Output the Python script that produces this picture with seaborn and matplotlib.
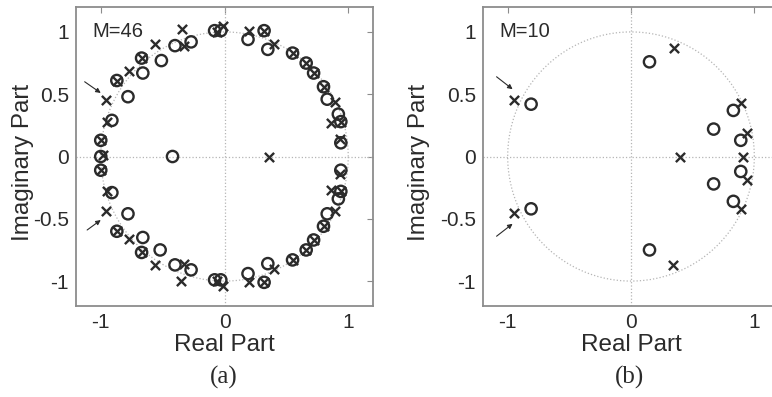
import numpy as np
import matplotlib
matplotlib.use('Agg')
import matplotlib.pyplot as plt
import seaborn as sns

# panel (a), M=46: zeros (o) and poles (x)
a_zero_re = [-0.27, -0.40, -0.51, -0.67, -0.66, -0.87, -0.78, -0.91, -1.00, -0.08, -0.03,
             0.19, 0.32, 0.35, 0.55, 0.66, 0.72, 0.80, 0.83, 0.92, 0.94, 0.94,
             -0.27, -0.40, -0.52, -0.67, -0.66, -0.87, -0.78, -0.91, -1.00, -0.08, -0.03,
             0.19, 0.32, 0.35, 0.55, 0.66, 0.72, 0.80, 0.83, 0.92, 0.94, 0.94,
             -0.42, -1.00]
a_zero_im = [0.92, 0.89, 0.77, 0.79, 0.67, 0.61, 0.48, 0.29, 0.13, 1.01, 1.01,
             0.94, 1.01, 0.86, 0.83, 0.75, 0.67, 0.56, 0.46, 0.34, 0.28, 0.11,
             -0.91, -0.87, -0.75, -0.77, -0.65, -0.60, -0.46, -0.29, -0.11, -0.99, -0.99,
             -0.94, -1.01, -0.86, -0.83, -0.75, -0.67, -0.56, -0.46, -0.34, -0.28, -0.11,
             0.0, 0.0]
a_pole_re = [-0.34, -0.33, -0.56, -0.67, -0.77, -0.87, -0.96, -0.95, -1.00, -0.06, -0.01,
             0.20, 0.32, 0.40, 0.55, 0.66, 0.72, 0.80, 0.89, 0.86, 0.94, 0.93,
             -0.35, -0.33, -0.56, -0.67, -0.77, -0.87, -0.96, -0.95, -1.00, -0.06, -0.01,
             0.20, 0.32, 0.40, 0.55, 0.66, 0.72, 0.80, 0.89, 0.86, 0.94, 0.93,
             0.36, -0.98]
a_pole_im = [1.02, 0.89, 0.90, 0.79, 0.69, 0.61, 0.45, 0.28, 0.13, 1.00, 1.05,
             1.01, 1.01, 0.90, 0.83, 0.75, 0.67, 0.56, 0.44, 0.27, 0.28, 0.14,
             -1.00, -0.86, -0.87, -0.77, -0.66, -0.60, -0.44, -0.28, -0.11, -1.00, -1.04,
             -1.01, -1.01, -0.90, -0.83, -0.75, -0.67, -0.56, -0.44, -0.27, -0.28, -0.14,
             0.0, 0.01]

# panel (b), M=10
b_zero_re = [0.15, 0.83, 0.67, 0.89, -0.81, 0.15, 0.83, 0.67, 0.89, -0.81]
b_zero_im = [0.76, 0.37, 0.22, 0.13, 0.42, -0.75, -0.36, -0.22, -0.12, -0.42]
b_pole_re = [0.35, 0.89, 0.94, -0.95, 0.40, 0.91, 0.34, 0.89, 0.94, -0.95]
b_pole_im = [0.87, 0.43, 0.19, 0.45, 0.0, 0.0, -0.87, -0.42, -0.19, -0.45]

x_ticks = [-1, 0, 1]
x_ticklabels = ['-1', '0', '1']
y_ticks = [-1, -0.5, 0, 0.5, 1]
y_ticklabels = ['-1', '-0.5', '0', '0.5', '1']

sns.set_style('white')
plt.rcParams['font.family'] = ['Liberation Sans', 'DejaVu Sans']

ink = '#2b2b2b'
frame = '#8c8c8c'

fig = plt.figure(figsize=(7.72, 3.97), dpi=100)
ax_a = fig.add_axes([76 / 772, 91 / 397, 297 / 772, 299 / 397])
ax_b = fig.add_axes([483 / 772, 91 / 397, 296 / 772, 299 / 397])


def draw_panel(ax, zr, zi, pr, pi, title, arrows, label_x):
    t = np.linspace(0, 2 * np.pi, 400)
    ax.plot(np.cos(t), np.sin(t), ls=':', color='#b5b5b5', lw=0.9, zorder=1)
    ax.axhline(0, ls=':', color='#b5b5b5', lw=0.9, zorder=1)
    ax.axvline(0, ls=':', color='#b5b5b5', lw=0.9, zorder=1)
    sns.scatterplot(x=zr, y=zi, ax=ax, marker='o', s=66, facecolors='none',
                    edgecolor=ink, linewidth=1.7, zorder=3)
    sns.scatterplot(x=pr, y=pi, ax=ax, marker='x', s=44, color=ink,
                    linewidth=1.7, zorder=4)
    ax.set_xlim(-1.2, 1.2)
    ax.set_ylim(-1.2, 1.2)
    ax.set_xticks(x_ticks)
    ax.set_xticklabels(x_ticklabels)
    ax.set_yticks(y_ticks)
    ax.set_yticklabels(y_ticklabels)
    ax.tick_params(direction='in', length=4, width=0.8, color=frame,
                   top=True, right=True, labelsize=15, labelcolor=ink, pad=5)
    for sp in ax.spines.values():
        sp.set_color(frame)
        sp.set_linewidth(1.3)
    ax.set_xlabel('Real Part', fontsize=17.5, color=ink)
    ax.set_ylabel('Imaginary Part', fontsize=17.5, color=ink)
    ax.xaxis.set_label_coords(0.5, -0.093)
    ax.yaxis.set_label_coords(label_x, 0.48)
    ax.text(-1.07, 1.0, title, fontsize=14.5, color=ink, va='center', ha='left')
    for start, end in arrows:
        ax.annotate('', xy=end, xytext=start,
                    arrowprops=dict(arrowstyle='-|>', color=ink, lw=0.8,
                                    mutation_scale=7, shrinkA=0, shrinkB=0))


draw_panel(ax_a, a_zero_re, a_zero_im, a_pole_re, a_pole_im, 'M=46',
           [((-1.13, 0.60), (-1.00, 0.51)), ((-1.11, -0.59), (-1.00, -0.51))], -0.142)
draw_panel(ax_b, b_zero_re, b_zero_im, b_pole_re, b_pole_im, 'M=10',
           [((-1.09, 0.64), (-0.96, 0.54)), ((-1.09, -0.64), (-0.96, -0.54))], -0.179)

fig.text(224 / 772, 1 - 377 / 397, '(a)', fontsize=18, family='Liberation Serif',
         ha='center', va='center', color=ink)
fig.text(630 / 772, 1 - 377 / 397, '(b)', fontsize=18, family='Liberation Serif',
         ha='center', va='center', color=ink)

fig.savefig('out.png', dpi=100)
